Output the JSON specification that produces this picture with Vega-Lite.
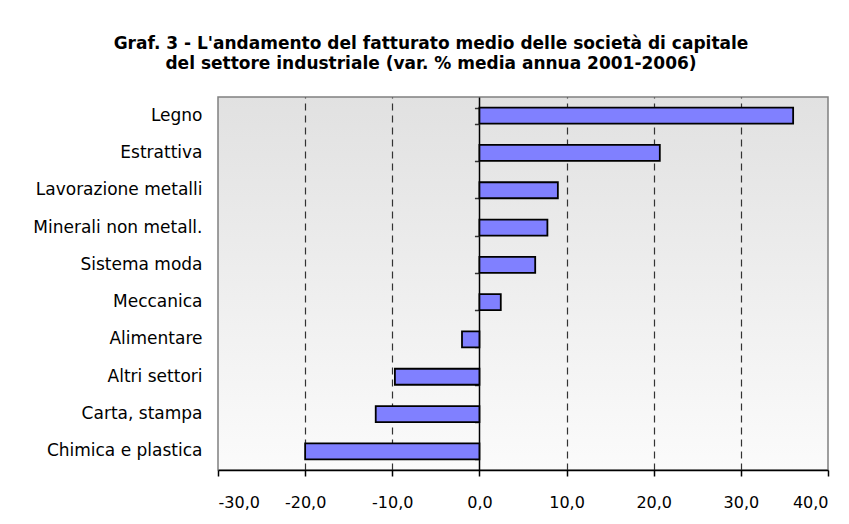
{
  "$schema": "https://vega.github.io/schema/vega-lite/v6.json",
  "width": 610,
  "height": 373,
  "autosize": "none",
  "padding": {"left": 218, "top": 97, "right": 21, "bottom": 54},
  "background": "white",
  "title": {
    "text": ["Graf. 3 - L'andamento del fatturato medio delle società di capitale", "del settore industriale (var. % media annua 2001-2006)"],
    "font": "DejaVu Sans",
    "fontSize": 17,
    "fontWeight": "bold",
    "color": "black",
    "anchor": "middle",
    "dx": -92,
    "offset": 24,
    "lineHeight": 20
  },
  "config": {
    "view": {
      "fill": {"gradient": "linear", "x1": 0, "y1": 0, "x2": 0, "y2": 1, "stops": [{"offset": 0, "color": "#e1e1e1"}, {"offset": 1, "color": "#fbfbfb"}]},
      "stroke": "#808080",
      "strokeWidth": 1.5
    }
  },
  "data": {
    "values": [
      {"settore": "Legno", "valore": 36.0},
      {"settore": "Estrattiva", "valore": 20.7},
      {"settore": "Lavorazione metalli", "valore": 9.0},
      {"settore": "Minerali non metall.", "valore": 7.8},
      {"settore": "Sistema moda", "valore": 6.4},
      {"settore": "Meccanica", "valore": 2.45},
      {"settore": "Alimentare", "valore": -2.0},
      {"settore": "Altri settori", "valore": -9.7},
      {"settore": "Carta, stampa", "valore": -11.9},
      {"settore": "Chimica e plastica", "valore": -20.0}
    ]
  },
  "layer": [
    {
      "mark": {"type": "bar", "fill": "#8080ff", "stroke": "black", "strokeWidth": 1.8},
      "encoding": {
        "y": {
          "field": "settore", "type": "nominal", "sort": null,
          "scale": {"paddingInner": 0.57},
          "axis": {
            "title": null, "ticks": false, "domain": false, "grid": false,
            "labelPadding": 16, "labelFont": "DejaVu Sans", "labelFontSize": 17, "labelColor": "black",
            "labelExpr": "(datum.label == 'Legno' || datum.label == 'Altri settori') ? datum.label + '\u00a0' : datum.label"
          }
        },
        "x": {
          "field": "valore", "type": "quantitative",
          "scale": {"domain": [-30, 40], "nice": false, "zero": false},
          "axis": {
            "title": null,
            "values": [-30, -20, -10, 0, 10, 20, 30, 40],
            "labelExpr": "datum.value + ',0'",
            "labelFont": "DejaVu Sans", "labelFontSize": 16, "labelColor": "black",
            "labelPadding": 18,
            "tickSize": 6, "tickColor": "black", "tickWidth": 1.5,
            "domainColor": "black", "domainWidth": 1.5,
            "grid": true,
            "gridColor": {"condition": {"test": "datum.value == 0", "value": "black"}, "value": "#333333"},
            "gridDash": {"condition": {"test": "datum.value == 0", "value": []}, "value": [7, 5]},
            "gridWidth": {"condition": {"test": "datum.value == 0", "value": 1.5}, "value": 1.2},
            "gridOpacity": {"condition": {"test": "datum.value == -30 || datum.value == 40", "value": 0}, "value": 1}
          }
        }
      }
    },
    {
      "mark": {"type": "bar", "opacity": 0},
      "encoding": {
        "y": {
          "field": "settore", "type": "nominal", "sort": null,
          "axis": {
            "orient": "left",
            "title": null, "labels": false, "domain": false, "grid": false,
            "ticks": true, "tickBand": "extent", "tickColor": "#333333", "tickSize": 5, "tickWidth": 1.5,
            "offset": -261.43
          }
        },
        "x": {"field": "valore", "type": "quantitative"}
      }
    }
  ],
  "resolve": {"axis": {"y": "independent"}}
}
